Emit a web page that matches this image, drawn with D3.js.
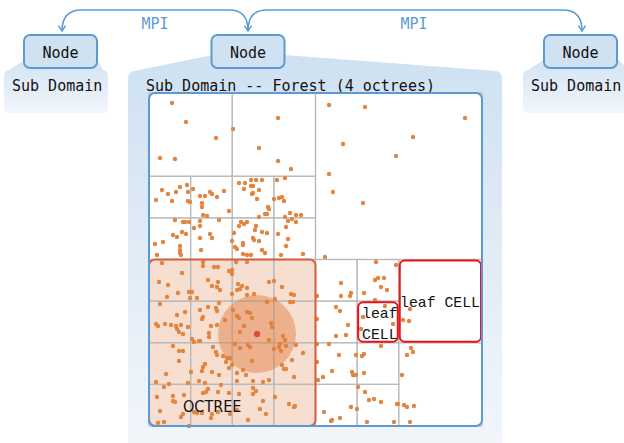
<!DOCTYPE html>
<html><head><meta charset="utf-8">
<script src="https://cdn.jsdelivr.net/npm/d3@7"></script>
<style>body{margin:0;background:#fff}svg{display:block}</style>
</head><body><svg id="c" width="624" height="443"></svg>
<script>
// ---- data ----
const nodes = [{label:"Node", cx:60.5}, {label:"Node", cx:248}, {label:"Node", cx:580.5}];
const mpiLabels = [{text:"MPI", cx:155}, {text:"MPI", cx:414}];
const title = "Sub Domain -- Forest (4 octrees)";
const sideLabel = "Sub Domain";
// forest leaf cells in grid units (8 per side): [x, y, size]
const cells = [
  [0,0,2],[2,0,2],
  [0,2,1],[1,2,1],[0,3,1],[1,3,1],
  [2,2,1],[3,2,1],[2,3,1],[3,3,1],
  [4,0,4],
  [0,4,1],[1,4,1],[2,4,1],[3,4,1],
  [0,5,1],[1,5,1],[2,5,1],[3,5,1],
  [0,6,1],[1,6,1],[2,6,1],[3,6,1],
  [0,7,1],[1,7,1],[2,7,1],[3,7,1],
  [4,4,1],[5,4,1],[4,5,1],[5,5,1],
  [6,4,2],
  [4,6,1],[5,6,1],[4,7,1],[5,7,1],
  [6,6,2]
];
const octree = [0,4,4];
const leafCells = [[5,5,1],[6,4,2]];
const searchCenter = [108,241];
const searchRadius = 39;
// particles in domain units (0..333)
const particles = [
 [23,10],[37,29],[67,45],[11,65],[26,66],[84,36],[129,25],[110,55],[129,68],[142,76],
 [13,97],[7,107],[19,101],[23,108],[27,99],[31,94],[38,92],[39,99],[39,108],[41,109],
 [44,96],[51,103],[56,103],[61,99],[63,101],[68,104],[75,98],[53,110],[53,114],[54,122],[58,123],[80,118],
 [26,127],[34,129],[36,129],[40,129],[33,139],[37,141],[24,142],[28,144],[6,151],[14,149],
 [31,153],[31,157],[31,160],[32,162],[8,162],[45,135],[51,128],[51,133],[70,127],[61,141],[63,145],[51,145],[52,157],
 [90,90],[96,90],[102,87],[107,87],[113,87],[102,93],[104,93],[95,96],[110,97],[103,101],[104,100],[108,106],
 [128,87],[136,85],[125,106],[130,105],[133,104],[135,108],[119,114],[120,116],[116,121],[118,121],[110,124],
 [92,129],[90,133],[95,131],[98,129],[107,133],[106,137],[113,139],[118,140],[104,145],[105,147],[110,148],
 [85,140],[83,148],[94,150],[94,152],[86,154],[88,156],[113,157],[116,160],[94,161],[98,162],[102,162],
 [136,124],[141,120],[147,122],[152,122],[139,128],[143,126],[147,129],[137,134],[129,141],[139,146],[137,153],[132,162],[154,161],
 [180,12],[216,14],[316,25],[194,51],[264,44],[247,63],[180,81],[184,99],[214,110],[176,164],
 [227,169],[247,172],[192,190],[192,203],[201,203],[202,200],[168,203],[226,187],[229,185],[235,185],[232,194],[238,197],
 [215,200],[226,207],[187,214],[191,218],[168,226],[199,232],[187,243],[197,242],[212,236],[214,224],[236,213],[244,231],
 [254,227],[260,228],[261,216],[232,253],[168,251],[180,251],[190,262],[207,262],[213,263],[215,261],[168,269],[183,278],
 [203,279],[204,282],[207,282],[215,280],[174,284],[169,287],[253,282],[262,255],[264,259],[258,262],[209,294],[216,299],
 [220,307],[225,306],[232,309],[202,314],[208,316],[175,319],[183,327],[182,328],[191,325],[218,329],[245,329],[248,311],
 [249,311],[255,312],[258,314],[265,313],[261,329],
 [13,170],[54,169],[54,173],[65,174],[69,174],[80,178],[83,177],[83,181],[87,169],[98,169],[33,180],[10,189],[19,192],
 [59,187],[63,193],[69,189],[68,194],[71,197],[40,199],[43,199],[41,205],[48,205],[29,200],[18,204],[89,191],[93,193],
 [91,196],[88,197],[98,195],[83,201],[120,189],[125,188],[133,194],[142,201],[145,202],[105,201],[98,202],[118,209],
 [126,206],[141,209],[144,209],[11,211],[28,222],[36,219],[51,217],[59,214],[67,215],[70,210],[68,218],[54,224],[53,226],
 [7,231],[9,233],[16,231],[22,232],[27,233],[32,232],[28,236],[30,239],[34,241],[39,234],[62,233],[68,232],[60,240],[60,244],
 [84,217],[88,223],[90,225],[98,219],[101,220],[103,225],[95,233],[91,239],[76,227],[122,230],[123,234],[120,247],[134,243],
 [136,247],[51,248],[43,246],[24,253],[30,258],[34,258],[45,249],[50,248],[64,254],[67,259],[68,262],[74,263],[78,265],
 [81,265],[77,269],[86,251],[99,252],[101,254],[91,255],[125,256],[130,254],[131,251],[137,253],[147,252],[132,258],[154,260],
 [30,268],[56,271],[54,274],[53,278],[42,279],[63,279],[70,282],[83,272],[80,275],[103,268],[88,280],[94,277],[97,282],
 [133,272],[135,276],[137,276],[143,267],[145,284],[17,281],[7,289],[20,291],[39,290],[50,288],[56,290],[88,288],[104,288],
 [114,289],[120,287],[15,294],[8,304],[24,303],[24,308],[26,309],[35,302],[59,296],[57,299],[54,300],[69,299],[72,292],
 [80,300],[90,301],[104,295],[107,298],[104,301],[126,304],[114,308],[140,311],[146,313],[145,314],[111,316],[117,321],
 [11,318],[34,321],[32,324],[45,319],[48,320],[53,320],[63,321],[62,325],[69,319],[81,321],[88,317],[99,327],[9,330],[15,329],[40,333]
];

// ---- drawing ----
const svg = d3.select("#c");
const blue = "#5b9bd5";
const defs = svg.append("defs");
const mkGrad = (id, c0, c1) => {
  const g = defs.append("linearGradient").attr("id", id).attr("x1",0).attr("y1",0).attr("x2",0).attr("y2",1);
  g.append("stop").attr("offset","0%").attr("stop-color",c0);
  g.append("stop").attr("offset","100%").attr("stop-color",c1);
};
mkGrad("gMid", "#cfe1f2", "#f2f6fb");
mkGrad("gSide", "#d3e3f3", "#f1f6fb");
defs.append("marker").attr("id","arr").attr("viewBox","0 0 10 10").attr("refX",9).attr("refY",5)
  .attr("markerWidth",9).attr("markerHeight",9).attr("markerUnits","userSpaceOnUse").attr("orient","auto-start-reverse")
  .append("path").attr("d","M3,1 L9,5 L3,9").attr("fill","none").attr("stroke",blue).attr("stroke-width",1.6);

// panels
svg.append("path").attr("fill","url(#gMid)")
  .attr("d","M128,78 Q128,72 134,71 L213,55 L284,55 L496,71 Q502,72 502,78 L502,443 L128,443 Z");
svg.append("path").attr("fill","url(#gSide)")
  .attr("d","M4,76 Q4,71 9,70 L26,59 L97,59 L103,70 Q108,71 108,76 L108,108 Q108,113 103,113 L9,113 Q4,113 4,108 Z");
svg.append("path").attr("fill","url(#gSide)")
  .attr("d","M523,76 Q523,71 528,70 L545,59 L617,59 L630,70 L630,113 L528,113 Q523,113 523,108 Z");

// MPI arrows
svg.append("path").attr("fill","none").attr("stroke",blue).attr("stroke-width",1.6)
  .attr("marker-start","url(#arr)").attr("marker-end","url(#arr)")
  .attr("d","M248,31 C248,17 242,10 229,10 L82,10 C69,10 62,17 62,31");
svg.append("path").attr("fill","none").attr("stroke",blue).attr("stroke-width",1.6)
  .attr("marker-end","url(#arr)")
  .attr("d","M248,31 C248,17 254,10 267,10 L563,10 C576,10 582,17 582,31");
svg.selectAll("text.mpi").data(mpiLabels).join("text").attr("class","mpi")
  .attr("x",d=>d.cx).attr("y",29).attr("text-anchor","middle")
  .attr("font-family","DejaVu Sans Mono").attr("font-size",15).attr("fill",blue).text(d=>d.text);

// node boxes
const ng = svg.selectAll("g.node").data(nodes).join("g").attr("class","node");
ng.append("rect").attr("x",d=>d.cx-36.5).attr("y",35).attr("width",73).attr("height",33).attr("rx",6)
  .attr("fill","#d0e1f2").attr("stroke",blue).attr("stroke-width",2);
ng.append("text").attr("x",d=>d.cx).attr("y",57.5).attr("text-anchor","middle")
  .attr("font-family","DejaVu Sans Mono").attr("font-size",15).attr("fill","#111").text(d=>d.label);

const mono = "DejaVu Sans Mono";
svg.append("text").attr("x",12).attr("y",90.5).attr("font-family",mono).attr("font-size",15).attr("fill","#111").text(sideLabel);
svg.append("text").attr("x",531).attr("y",90.5).attr("font-family",mono).attr("font-size",15).attr("fill","#111").text(sideLabel);
svg.append("text").attr("x",146).attr("y",90.5).attr("font-family",mono).attr("font-size",15).attr("fill","#111").text(title);

// domain
const x = d3.scaleLinear().domain([0,333]).range([149,482]);
const y = d3.scaleLinear().domain([0,333]).range([93,426]);
const gx = d3.scaleLinear().domain([0,8]).range([149,482]);
const gy = d3.scaleLinear().domain([0,8]).range([93,426]);

svg.append("rect").attr("x",gx(0)).attr("y",gy(0)).attr("width",gx(8)-gx(0)).attr("height",gy(8)-gy(0))
  .attr("rx",6).attr("fill","#fff");
// octree fill
svg.append("rect").attr("x",gx(octree[0])).attr("y",gy(octree[1]))
  .attr("width",gx(octree[2])-gx(0)).attr("height",gy(octree[2])-gy(0)).attr("rx",6)
  .attr("fill","#f6dfd0");
// grid cells
svg.append("g").selectAll("rect").data(cells).join("rect")
  .attr("x",d=>gx(d[0])).attr("y",d=>gy(d[1])).attr("width",d=>gx(d[2])-gx(0)).attr("height",d=>gy(d[2])-gy(0))
  .attr("fill","none").attr("stroke","#b8b8b8").attr("stroke-width",1.2).attr("stroke-opacity",0.9);
// particles
svg.append("g").selectAll("circle").data(particles).join("circle")
  .attr("cx",d=>x(d[0])).attr("cy",d=>y(d[1])).attr("r",2.2).attr("fill","#e3853f");
// search sphere
svg.append("circle").attr("cx",x(searchCenter[0])).attr("cy",y(searchCenter[1])).attr("r",x(searchRadius)-x(0))
  .attr("fill","#e07b39").attr("fill-opacity",0.45);
svg.append("circle").attr("cx",x(searchCenter[0])).attr("cy",y(searchCenter[1])).attr("r",3.2).attr("fill","#d4503a");
// octree border
svg.append("rect").attr("x",gx(octree[0])).attr("y",gy(octree[1]))
  .attr("width",gx(octree[2])-gx(0)).attr("height",gy(octree[2])-gy(0)).attr("rx",6)
  .attr("fill","none").attr("stroke","#d4613f").attr("stroke-width",2);
// leaf cells
svg.append("g").selectAll("rect").data(leafCells).join("rect")
  .attr("x",d=>gx(d[0])+1).attr("y",d=>gy(d[1])+1).attr("width",d=>gx(d[2])-gx(0)-2).attr("height",d=>gy(d[2])-gy(0)-2)
  .attr("rx",5).attr("fill","none").attr("stroke","#e8141c").attr("stroke-width",2);
// domain border
svg.append("rect").attr("x",gx(0)).attr("y",gy(0)).attr("width",gx(8)-gx(0)).attr("height",gy(8)-gy(0))
  .attr("rx",6).attr("fill","none").attr("stroke",blue).attr("stroke-width",2);

// labels
svg.append("text").attr("x",183).attr("y",411.5).attr("font-family","DejaVu Sans Condensed, DejaVu Sans")
  .attr("font-stretch","condensed").attr("font-size",16).attr("fill","#111").text("OCTREE");
const lm = "Liberation Mono";
svg.append("text").attr("x",400).attr("y",307).attr("font-family",lm).attr("font-size",14.8).attr("fill","#111").text("leaf CELL");
svg.append("text").attr("x",362).attr("y",318).attr("font-family",lm).attr("font-size",14.8).attr("fill","#111").text("leaf");
svg.append("text").attr("x",362).attr("y",338.5).attr("font-family",lm).attr("font-size",14.8).attr("fill","#111").text("CELL");
</script></body></html>
